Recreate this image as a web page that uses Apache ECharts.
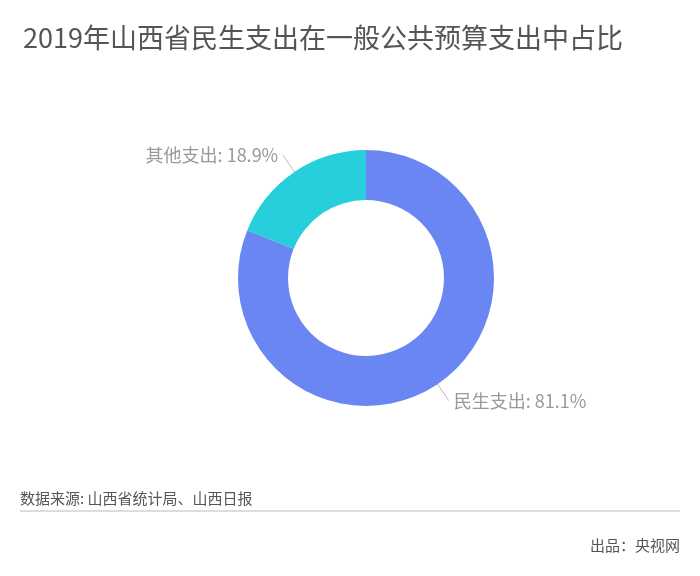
<!DOCTYPE html>
<html>
<head>
<meta charset="UTF-8">
<title>2019年山西省民生支出在一般公共预算支出中占比</title>
<script type="text/javascript" src="https://cdn.jsdelivr.net/npm/echarts@6/dist/echarts.min.js"></script>
<style>
  html, body { margin: 0; padding: 0; background: #fff; }
  #main { width: 700px; height: 576px; }
</style>
</head>
<body>
<div id="main"></div>
<script type="text/javascript">
// 数据
var categories = ['民生支出', '其他支出'];
var values = [81.1, 18.9];
var colors = ['#6a86f2', '#26cfdb'];

var pieData = [];
for (var i = 0; i < categories.length; i++) {
    pieData.push({ name: categories[i], value: values[i], itemStyle: { color: colors[i] } });
}

var myChart = echarts.init(document.getElementById('main'));
myChart.setOption({
    backgroundColor: '#fff',
    textStyle: { fontFamily: '"Noto Sans CJK SC", "Noto Sans", sans-serif' },
    title: {
        text: '2019年山西省民生支出在一般公共预算支出中占比',
        left: 18,
        top: 19,
        textStyle: { fontSize: 27, fontWeight: 'normal', color: '#555' }
    },
    series: [{
        type: 'pie',
        center: [366, 278],
        radius: [78, 128],
        startAngle: 90,
        data: pieData,
        label: {
            formatter: '{b}: {d}%',
            fontSize: 18,
            color: '#999'
        },
        labelLine: {
            length: 20,
            length2: 0,
            lineStyle: { width: 1, color: '#bbb' }
        }
    }],
    graphic: [
        {
            type: 'text', left: 20, top: 491,
            style: { text: '数据来源: 山西省统计局、山西日报', fill: '#555',
                     font: '15px "Noto Sans CJK SC"' }
        },
        {
            type: 'line', shape: { x1: 20, y1: 511, x2: 680, y2: 511 },
            style: { stroke: '#ddd', lineWidth: 2 }
        },
        {
            type: 'text', right: 20, top: 538,
            style: { text: '出品：央视网', fill: '#555',
                     font: '15px "Noto Sans CJK SC"' }
        }
    ]
});
</script>
</body>
</html>
